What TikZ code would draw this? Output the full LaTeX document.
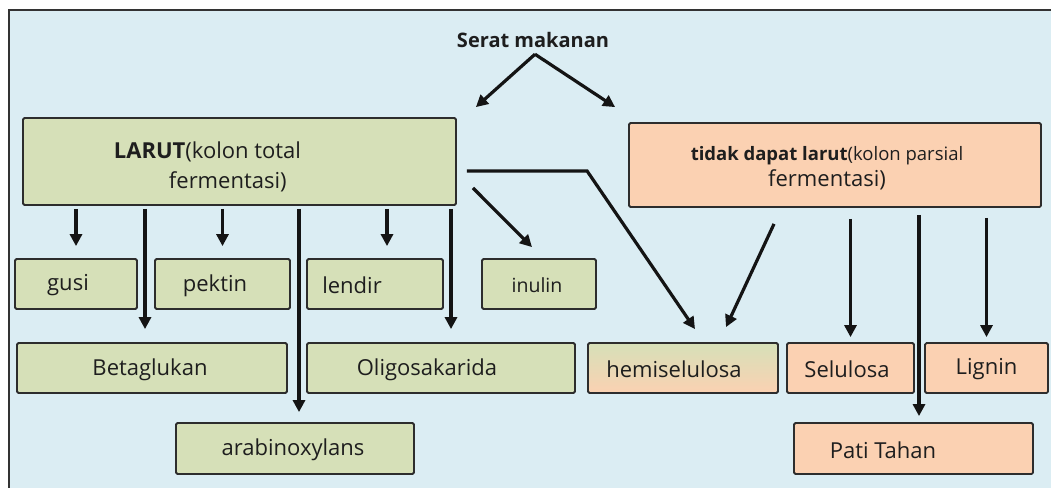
\documentclass[tikz,border=0pt]{standalone}
\usepackage{fontspec}
\setmainfont{Open Sans}
\usetikzlibrary{arrows.meta,calc}
\definecolor{bgblue}{RGB}{219,237,243}
\definecolor{boxgreen}{RGB}{214,224,184}
\definecolor{boxorange}{RGB}{251,209,178}
\definecolor{edgegray}{RGB}{45,45,45}
\definecolor{txt}{RGB}{30,30,30}
\begin{document}
\begin{tikzpicture}[x=1pt,y=-1pt,
  box/.style={draw=edgegray, line width=1.8pt, rounded corners=1.5pt, inner sep=0pt, minimum height=50pt},
  gbox/.style={box, fill=boxgreen},
  obox/.style={box, fill=boxorange},
  lbl/.style={font=\fontsize{22}{26}\selectfont, text=txt, inner sep=0pt, yshift=-1.5pt},
  arr/.style={line width=3.2pt, draw=black!92, -{Triangle[length=12pt,width=12pt]}},
]
\useasboundingbox (0,0) rectangle (1051,488);
\fill[white] (0,0) rectangle (1051,488);
\fill[bgblue] (9,10) rectangle (1051,488);
\draw[line width=2.5pt, black!80] (1051,10) -- (9,10) -- (9,488);

% title
\node[font=\bfseries\fontsize{20}{24}\selectfont, text=txt] (serat) at (533,40) {Serat makanan};

% main boxes
\node[gbox, minimum width=433pt, minimum height=87pt,
  label={[lbl, align=left, font=\fontsize{22}{30}\selectfont, xshift=-32pt, yshift=-3.5pt]center:{\textbf{LARUT}(kolon total\\\hspace*{55pt}fermentasi)}}]
  (larut) at (239.5,161.5) {};
\node[obox, minimum width=412pt, minimum height=84pt,
  label={[lbl, align=center, font=\fontsize{22}{26}\selectfont, xshift=-8pt, yshift=-2pt]center:{{\fontsize{18.5}{22}\selectfont\textbf{tidak dapat larut}(kolon parsial}\\fermentasi)}}]
  (tidak) at (835,165) {};

% row 2
\node[gbox, minimum width=122pt, label={[lbl, xshift=-8pt]center:gusi}] (gusi) at (76,284) {};
\node[gbox, minimum width=135pt, label={[lbl, xshift=-7.5pt]center:pektin}] (pektin) at (222.5,284) {};
\node[gbox, minimum width=136pt, label={[lbl, xshift=-23pt]center:lendir}] (lendir) at (375,284) {};
\node[gbox, minimum width=114pt, label={[lbl, font=\fontsize{19.5}{23}\selectfont, xshift=-2pt]center:inulin}] (inulin) at (539,284) {};

% row 3
\node[gbox, minimum width=270pt, label={[lbl, xshift=-2pt]center:Betaglukan}] (beta) at (152,368) {};
\node[gbox, minimum width=268pt, label={[lbl, xshift=-14pt]center:Oligosakarida}] (oligo) at (441,368) {};
\node[box, top color=boxgreen, bottom color=boxorange, minimum width=190pt, label={[lbl, xshift=-9pt]center:hemiselulosa}] (hemi) at (683,368) {};
\node[obox, minimum width=127pt, label={[lbl, xshift=-3.5pt]center:Selulosa}] (selulosa) at (850.5,368) {};
\node[obox, minimum width=123pt, label={[lbl]center:Lignin}] (lignin) at (986.5,368) {};

% row 4
\node[gbox, minimum width=238pt, minimum height=51pt, label={[lbl, xshift=-2pt]center:arabinoxylans}] (arab) at (295,448.5) {};
\node[obox, minimum width=239pt, minimum height=51pt, label={[lbl, xshift=-30.5pt]center:Pati Tahan}] (pati) at (913.5,448.5) {};

% coordinates for arrow ends
\coordinate (apex) at ([xshift=2pt,yshift=-3pt]serat.south);
\coordinate (lt) at ([xshift=19pt,yshift=10pt]larut.north east);
\coordinate (rt) at ([xshift=-13pt,yshift=15pt]tidak.north west);
\coordinate (lendin) at ([xshift=12pt]lendir.north);
\coordinate (betain) at ([xshift=-7pt]beta.north);
\coordinate (arabin) at ([xshift=4pt]arab.north);
\coordinate (oligoin) at ([xshift=10pt]oligo.north);
\coordinate (inus) at ([xshift=16pt,yshift=18pt]larut.south east);
\coordinate (inue) at ([xshift=-7pt,yshift=11pt]inulin.north);
\coordinate (hems) at ([xshift=10pt,yshift=-9.5pt]larut.east);
\coordinate (heme) at ([xshift=12pt,yshift=13pt]hemi.north);
\coordinate (tids) at ([xshift=-61pt,yshift=-16pt]tidak.south);
\coordinate (tide) at ([xshift=43pt,yshift=15pt]hemi.north);
\coordinate (patiin) at ([xshift=5.5pt]pati.north);

% arrows from title
\draw[arr] (apex) -- (lt);
\draw[arr] (apex) -- (rt);

% arrows from LARUT
\draw[arr, shorten <=3pt, shorten >=12pt] (gusi.north |- larut.south) -- (gusi.north);
\draw[arr, shorten <=3pt, shorten >=12pt] (pektin.north |- larut.south) -- (pektin.north);
\draw[arr, shorten <=3pt, shorten >=12pt] (lendin |- larut.south) -- (lendin);
\draw[arr, shorten <=3pt, shorten >=13pt] (betain |- larut.south) -- (betain);
\draw[arr, shorten <=3pt, shorten >=10pt] (arabin |- larut.south) -- (arabin);
\draw[arr, shorten <=3pt, shorten >=13pt] (oligoin |- larut.south) -- (oligoin);
\draw[arr] (inus) -- (inue);
\draw[arr] (hems) -- (hems -| hemi.north west) -- (heme);

% arrows from tidak dapat larut
\draw[arr] (tids) -- (tide);
\draw[arr, shorten <=11pt, shorten >=5pt] (selulosa.north |- tidak.south) -- (selulosa.north);
\draw[arr, shorten <=10pt, shorten >=5pt] (lignin.north |- tidak.south) -- (lignin.north);
\draw[arr, shorten <=7pt, shorten >=6pt] (patiin |- tidak.south) -- (patiin);
\end{tikzpicture}
\end{document}
